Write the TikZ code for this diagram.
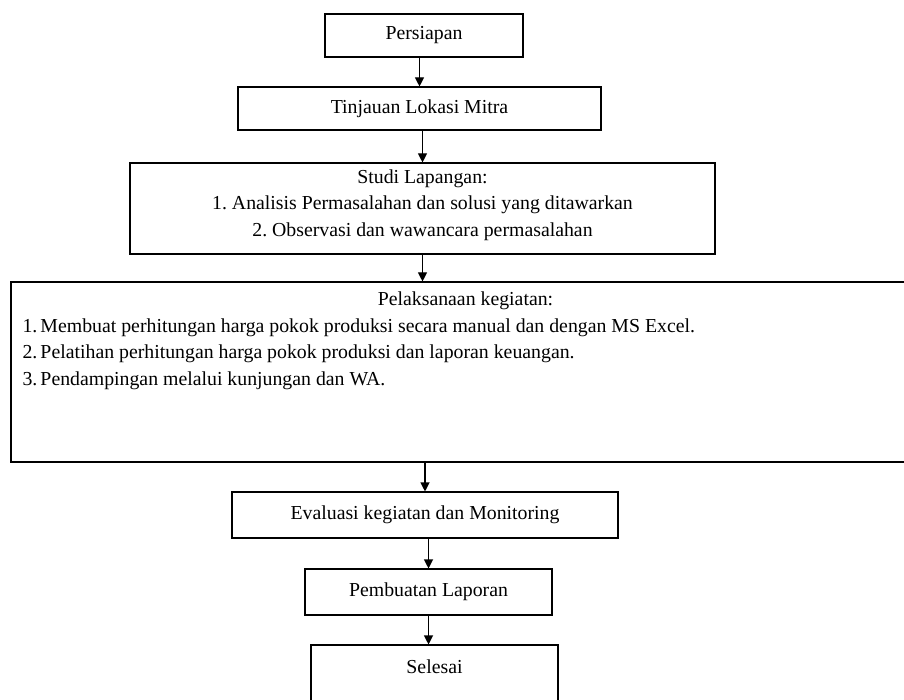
\documentclass[tikz,border=0pt]{standalone}
\usepackage{fontspec}
\setmainfont{Liberation Serif}
\usepackage{tikz}
\usetikzlibrary{arrows.meta}
\frenchspacing
\tikzstyle{stepbox} = [rectangle, draw=black, line width=1.1pt, text centered, inner sep=0pt, font=\fontsize{19.8pt}{26.5pt}\selectfont]
\tikzstyle{arrow}   = [line width=1.1pt, -{Triangle[width=9pt,length=9pt]}]

\begin{document}
\begin{tikzpicture}[x=1pt, y=-1pt, node distance=73pt]
    \useasboundingbox (0,0) rectangle (904,700);
    \clip (0,0) rectangle (904,700);

    \node (prep)  [stepbox, minimum width=198pt, minimum height=43pt] at (424,35.5) {Persiapan};
    \node (site)  [stepbox, minimum width=363pt, minimum height=43pt, below of=prep, xshift=-4.5pt] {Tinjauan Lokasi Mitra};
    \node (study) [stepbox, minimum width=585pt, minimum height=91pt, below of=site, xshift=3pt, yshift=-27pt]
        {\parbox[c][78pt][t]{560pt}{\centering Studi Lapangan:\\ 1. Analisis Permasalahan dan solusi yang ditawarkan\\ 2. Observasi dan wawancara permasalahan}};
    \node (exec)  [stepbox, minimum width=909pt, minimum height=180pt, below of=study, xshift=43pt, yshift=-90.5pt]
        {\parbox[c][160pt][t]{886pt}{\centering Pelaksanaan kegiatan:\par\raggedright
         \makebox[18pt][l]{1.}Membuat perhitungan harga pokok produksi secara manual dan dengan MS Excel.\par
         \makebox[18pt][l]{2.}Pelatihan perhitungan harga pokok produksi dan laporan keuangan.\par
         \makebox[18pt][l]{3.}Pendampingan melalui kunjungan dan WA.}};
    \node (eval)  [stepbox, minimum width=386pt, minimum height=46pt, below of=exec, xshift=-40.5pt, yshift=-70pt] {Evaluasi kegiatan dan Monitoring};
    \node (report)[stepbox, minimum width=247pt, minimum height=46pt, below of=eval, xshift=3.5pt, yshift=-4pt] {Pembuatan Laporan};
    \node (done)  [stepbox, minimum width=247pt, minimum height=100pt, below of=report, xshift=6pt, yshift=-30pt]
        {\parbox[c][71pt][t]{220pt}{\centering Selesai}};

    \draw [arrow] (site.north |- prep.south) -- (site.north);
    \draw [arrow] (study.north |- site.south) -- (study.north);
    \draw [arrow] (study.south) -- (study.south |- exec.north);
    \draw [arrow] (eval.north |- exec.south) -- (eval.north);
    \draw [arrow] (report.north |- eval.south) -- (report.north);
    \draw [arrow] (report.south) -- (report.south |- done.north);
\end{tikzpicture}
\end{document}
